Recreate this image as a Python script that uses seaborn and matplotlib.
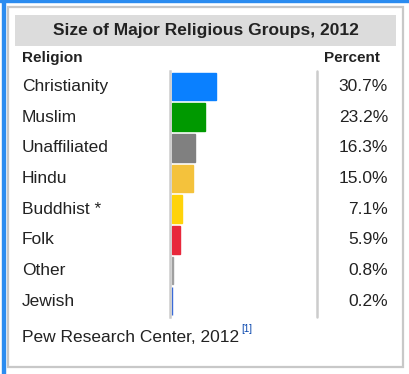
import matplotlib
matplotlib.use("Agg")
import matplotlib.pyplot as plt
from matplotlib.patches import Rectangle
import seaborn as sns
import pandas as pd

religions = ["Christianity", "Muslim", "Unaffiliated", "Hindu", "Buddhist *", "Folk", "Other", "Jewish"]
percents = [30.7, 23.2, 16.3, 15.0, 7.1, 5.9, 0.8, 0.2]
labels = ["30.7%", "23.2%", "16.3%", "15.0%", "7.1%", "5.9%", "0.8%", "0.2%"]
colors = ["#0a80ff", "#009900", "#808080", "#f4c23c", "#ffd30a", "#e8283c", "#a0a0a0", "#3a6ad8"]
title = "Size of Major Religious Groups, 2012"
source = "Pew Research Center, 2012"

sns.set_style("white")
plt.rcParams["font.family"] = ["Liberation Sans", "DejaVu Sans"]

W, H = 409, 374
fig = plt.figure(figsize=(W / 100, H / 100), dpi=100)
fig.patch.set_facecolor("white")

def fx(x):
    return x / W

def fy(y):
    return 1 - y / H

# outer frame (blue) top and left
fig.patches.append(Rectangle((fx(2), 0), fx(2.5), 1, transform=fig.transFigure, color="#2b8cf0", zorder=-3))
fig.patches.append(Rectangle((0, 1 - 2.2 / H), 1, 2.2 / H, transform=fig.transFigure, color="#2b8cf0",
                             zorder=-3, clip_on=False))
# gray box
fig.patches.append(Rectangle((fx(7.5), fy(367)), fx(395), (367 - 6.5) / H, transform=fig.transFigure,
                             facecolor="white", edgecolor="#c8c8c8", lw=1.6, zorder=-2))
# title band
fig.patches.append(Rectangle((fx(15), fy(46)), fx(381), 31 / H, transform=fig.transFigure,
                             facecolor="#dcdcdc", edgecolor="none", zorder=-1))

tc = "#222222"
fig.text(fx(205.5), fy(30.5), title, ha="center", va="center", fontsize=12.5, fontweight="bold", color=tc)
fig.text(fx(22), fy(58), "Religion", ha="left", va="center", fontsize=11, fontweight="bold", color=tc)
fig.text(fx(380), fy(58), "Percent", ha="right", va="center", fontsize=11, fontweight="bold", color=tc)

# bars axes: 1.43 px per percent, bars start at x=172, spine at x=170
scale = 1.43
top, bottom = 71, 316.5
ax = fig.add_axes([fx(170), fy(bottom), fx(145), (bottom - top) / H])
ax.set_zorder(5)
df = pd.DataFrame({"religion": religions, "percent": percents})
sns.barplot(data=df, x="percent", y="religion", hue="religion", palette=colors, order=religions,
            hue_order=religions, width=0.9, legend=False, ax=ax, saturation=1)
for p in ax.patches:
    p.set_edgecolor(p.get_facecolor())
    p.set_linewidth(1.0)
ax.set_xlim(-2 / scale, (315 - 172) / scale)
ax.set_ylim(7.5, -0.5)
ax.set_xlabel("")
ax.set_ylabel("")
ax.set_xticks([])
ax.set_yticks([])
for s in ["top", "right", "bottom"]:
    ax.spines[s].set_visible(False)
ax.spines["left"].set_color("#cccccc")
ax.spines["left"].set_linewidth(1.8)
ax.patch.set_alpha(0)

def dx(pixel_x):
    return (pixel_x - 172) / scale

for i, (r, lab) in enumerate(zip(religions, labels)):
    ax.text(dx(22), i, r, ha="left", va="center", fontsize=12.5, color=tc, clip_on=False)
    ax.text(dx(388), i, lab, ha="right", va="center", fontsize=12.5, color=tc, clip_on=False)

# right divider
ax.plot([dx(317)] * 2, [-0.5, 7.5], color="#cccccc", lw=1.8, clip_on=False)

fig.text(fx(22), fy(337), source, ha="left", va="center", fontsize=12.5, color=tc)
fig.text(fx(241), fy(329), "[1]", ha="left", va="center", fontsize=7, color="#0645ad")

fig.savefig("out.png", dpi=100)
